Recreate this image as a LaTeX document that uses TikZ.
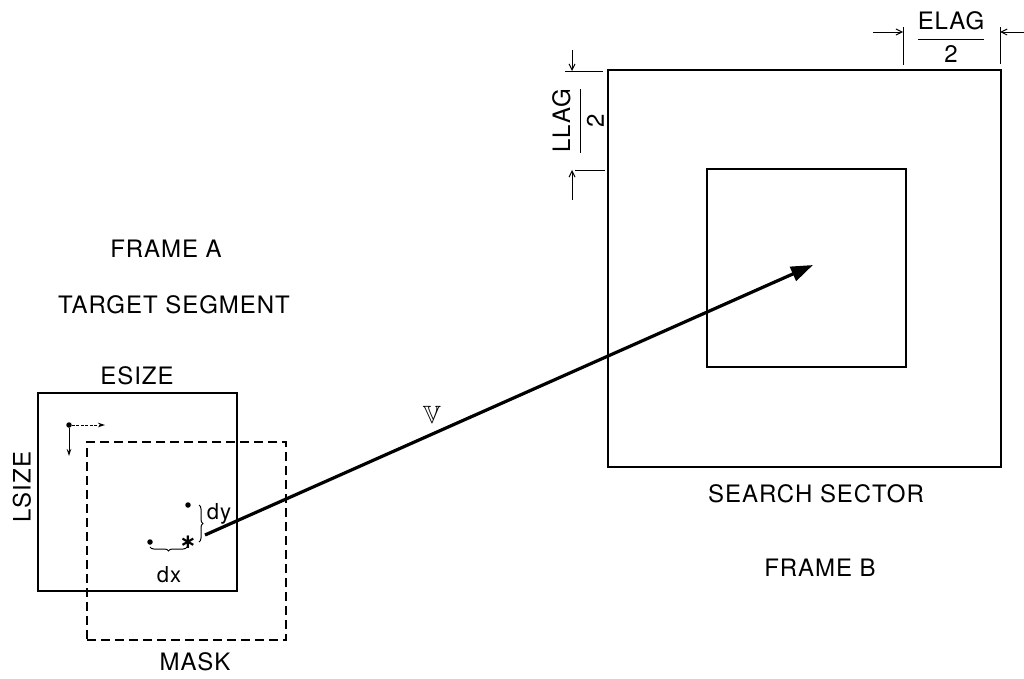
\documentclass[tikz,border=0pt]{standalone}
\usepackage{fontspec}
\usepackage{amssymb}
\setmainfont{TeX Gyre Heros}[LetterSpace=4]
\newfontfamily\symfont{DejaVu Sans}
\usetikzlibrary{decorations.pathreplacing,arrows.meta}
\begin{document}
\begin{tikzpicture}[x=1pt,y=-1pt,
  lbl/.style={font=\fontsize{24}{26}\selectfont, inner sep=0pt},
  smalllbl/.style={font=\fontsize{22}{24}\selectfont, inner sep=0pt},
  thickbox/.style={draw, line width=1.9pt},
  dashbox/.style={draw, line width=1.9pt, dash pattern=on 9pt off 5pt},
  dimline/.style={line width=1pt},
  dimarrow/.style={line width=1pt, -{Straight Barb[length=6pt,width=6pt]}},
  smallarrow/.style={line width=0.9pt, -{Stealth[length=7pt,width=4.5pt]}},
  dotn/.style={circle, fill, inner sep=0pt, minimum size=5.5pt},
  brc/.style={decorate, decoration={brace, amplitude=4pt}, line width=1pt}]
\useasboundingbox (0,0) rectangle (1024,678);
% Frame A
\node[thickbox, minimum width=199pt, minimum height=198pt, inner sep=0pt] (boxA) at (137.5,492) {};
\node[dashbox, minimum width=199pt, minimum height=198pt, inner sep=0pt] (mask) at (186.5,541) {};
\node[lbl] (frameA) at (166,249) {FRAME A};
\node[lbl] (target) at (174,305) {TARGET SEGMENT};
\node[lbl] (esize) at (137,376) {ESIZE};
\node[lbl, rotate=90] (lsize) at (22,487) {LSIZE};
\node[lbl] (masklbl) at (195,662) {MASK};
% scan arrows
\node[dotn] (d0) at (69,425) {};
\coordinate (d0r) at (105,425);
\coordinate (d0d) at (69,456);
\draw[smallarrow, dash pattern=on 3pt off 1.5pt] (d0) -- (d0r);
\draw[smallarrow] (d0) -- (d0d);
% points
\node[dotn] (p1) at (188,505) {};
\node[dotn] (p2) at (150,542) {};
\node[font=\symfont\bfseries\fontsize{20}{20}\selectfont, inner sep=0pt] (star) at (188,542) {∗};
\coordinate (bx1) at (150,547);
\coordinate (bx2) at (187,547);
\draw[brc, decoration={brace, amplitude=4pt, mirror}] (bx1) -- (bx2);
\coordinate (by1) at (199,505);
\coordinate (by2) at (199,542);
\draw[brc, decoration={brace, amplitude=4pt, mirror}] (by2) -- (by1);
\node[smalllbl] (dx) at (169,575) {dx};
\node[smalllbl] (dy) at (219,514) {dy};
% vector
\coordinate (vs) at (205,535);
\coordinate (ve) at (813,265);
\draw[line width=3.2pt, -{Triangle[length=22pt,width=15pt]}] (vs) -- (ve);
\node[font=\fontsize{25}{25}\selectfont, inner sep=0pt] (V) at (432,415) {$\mathbb{V}$};
% Frame B
\node[thickbox, minimum width=393pt, minimum height=397pt, inner sep=0pt] (sector) at (804.5,268.5) {};
\node[thickbox, minimum width=199pt, minimum height=198pt, inner sep=0pt] (inner) at (806.5,268) {};
\node[lbl] (search) at (816,494) {SEARCH SECTOR};
\node[lbl] (frameB) at (820,568) {FRAME B};
% ELAG dimension
\coordinate (e1t) at (903,27);
\coordinate (e1b) at (903,65);
\coordinate (e2t) at (1000,27);
\coordinate (e2b) at (1000,64);
\draw[dimline] (e1t) -- (e1b);
\draw[dimline] (e2t) -- (e2b);
\coordinate (ea1) at (873,32);
\coordinate (ea2) at (1024,32);
\draw[dimarrow] (ea1) -- (e1t |- ea1);
\draw[dimarrow] (ea2) -- (e2t |- ea2);
\node[lbl] (elag) at (951,37) {$\displaystyle\frac{\hbox{ELAG}}{\hbox{2}}$};
% LLAG dimension
\coordinate (l1l) at (565,71);
\coordinate (l1r) at (603,71);
\coordinate (l2l) at (575,170);
\coordinate (l2r) at (605,170);
\draw[dimline] (l1l) -- (l1r);
\draw[dimline] (l2l) -- (l2r);
\coordinate (la1) at (572,50);
\coordinate (la2) at (572,200);
\draw[dimarrow] (la1) -- (la1 |- l1l);
\draw[dimarrow] (la2) -- (la2 |- l2l);
\node[lbl, rotate=90] (llag) at (578,121) {$\displaystyle\frac{\hbox{LLAG}}{\hbox{2}}$};
\end{tikzpicture}
\end{document}
